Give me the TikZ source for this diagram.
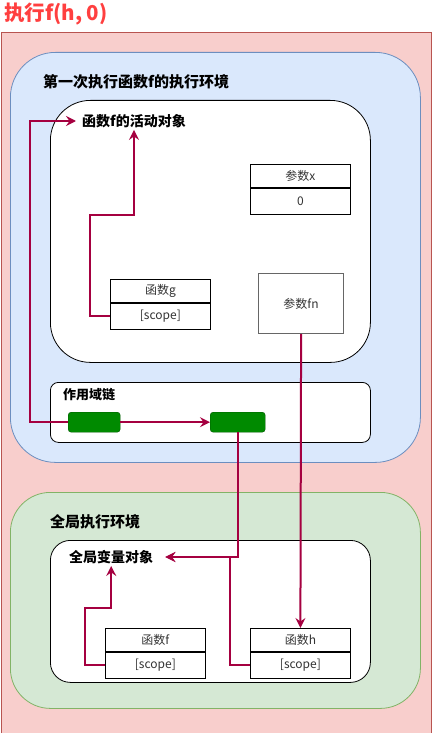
\documentclass[tikz,border=0pt]{standalone}
\usepackage{fontspec}
\setmainfont{Noto Sans CJK SC}
\usetikzlibrary{arrows.meta,calc,positioning}
\definecolor{rojofondo}{HTML}{F8CECC}
\definecolor{rojoborde}{HTML}{B85450}
\definecolor{azulfondo}{HTML}{DAE8FC}
\definecolor{azulborde}{HTML}{6C8EBF}
\definecolor{verdefondo}{HTML}{D5E8D4}
\definecolor{verdeborde}{HTML}{82B366}
\definecolor{verdecaja}{HTML}{008A00}
\definecolor{verdeoscuro}{HTML}{005700}
\definecolor{flechacolor}{HTML}{A50040}
\definecolor{titulocolor}{HTML}{FF3F3F}
\tikzset{
  entorno/.style={
    anchor=north west,
    line width=0.8pt,
    inner sep=0pt
  },
  objeto/.style={
    anchor=north west,
    draw=black,
    fill=white,
    line width=0.8pt,
    inner sep=0pt
  },
  etiqueta/.style={
    anchor=west,
    inner sep=2pt,
    font=\fontsize{14}{16}\selectfont\bfseries
  },
  celda/.style={
    draw=black,
    fill=white,
    line width=0.8pt,
    minimum width=100pt,
    minimum height=23pt,
    inner sep=0pt,
    text=black!80,
    font=\fontsize{12}{14}\selectfont
  },
  eslabon/.style={
    anchor=north west,
    rounded corners=3pt,
    draw=verdeoscuro,
    fill=verdecaja,
    minimum height=20pt,
    inner sep=0pt
  },
  flecha/.style={
    -{Stealth[length=10pt,width=10pt,inset=3.5pt]},
    line width=2pt,
    flechacolor
  }
}
\begin{document}
\begin{tikzpicture}[x=1pt,y=-1pt]
\useasboundingbox (0,0) rectangle (431,733);
% titulo y fondo
\node[anchor=west,inner sep=0pt,text=titulocolor,font=\fontsize{20.5}{24}\selectfont\bfseries] (titulo) at (4,14) {执行f(h, 0)};
\node[entorno,draw=rojoborde,fill=rojofondo,minimum width=430pt,minimum height=700pt] (fondo) at (0.5,32.5) {};
% entorno de f
\node[entorno,draw=azulborde,fill=azulfondo,rounded corners=45pt,minimum width=410pt,minimum height=410pt] (envf) at (10,52) {};
\node[etiqueta,font=\fontsize{15}{17}\selectfont\bfseries] (envftit) at (41,82) {第一次执行函数f的执行环境};
\node[objeto,rounded corners=40pt,minimum width=320pt,minimum height=262pt] (actobj) at (50,100) {};
\node[etiqueta] (actf) at (80,121) {函数f的活动对象};
\node[celda,anchor=north west] (xtit) at (250,164) {参数x};
\node[celda,below=0pt of xtit,minimum height=26pt] (xval) {0};
\node[celda,anchor=north west,draw=black!60,line width=1.2pt,minimum width=85pt,minimum height=60pt] (fn) at (258,273) {参数fn};
\node[celda,anchor=north west] (gtit) at (110,279) {函数g};
\node[celda,below=0pt of gtit,minimum height=26pt] (gscope) {[scope]};
% cadena de ambitos
\node[objeto,rounded corners=8pt,minimum width=320pt,minimum height=60pt] (cadena) at (50,382) {};
\node[etiqueta,font=\fontsize{13}{15}\selectfont\bfseries] (cadenatit) at (61,395) {作用域链};
\node[eslabon,minimum width=52pt] (e1) at (68,412) {};
\node[eslabon,minimum width=55pt] (e2) at (210,412) {};
% entorno global
\node[entorno,draw=verdeborde,fill=verdefondo,rounded corners=40pt,minimum width=410pt,minimum height=216pt] (envg) at (10,492) {};
\node[etiqueta,font=\fontsize{15}{17}\selectfont\bfseries] (envgtit) at (48,522) {全局执行环境};
\node[objeto,rounded corners=20pt,minimum width=320pt,minimum height=142pt] (globobj) at (50,540) {};
\node[etiqueta] (globvar) at (67,557) {全局变量对象};
\node[celda,anchor=north west] (ftit) at (105,628) {函数f};
\node[celda,below=0pt of ftit,minimum height=26pt] (fscope) {[scope]};
\node[celda,anchor=north west] (htit) at (250,628) {函数h};
\node[celda,below=0pt of htit,minimum height=26pt] (hscope) {[scope]};
% flechas
\draw[flecha] (gscope.west) -- ++(-20,0) |- ($(actf.south)+(0,85)$) -- (actf.south);
\draw[flecha] (e1.west) -- ++(-38,0) |- ($(actf.west)+(-4,0)$);
\draw[flecha] (e1) -- (e2);
\draw[flecha] (hscope.west) -- ++(-20,0) |- ($(globvar.east)+(10,0)$);
\draw[flecha] (e2.south) |- ($(globvar.east)+(10,0)$);
\draw[flecha] (fn.south) -- (htit.north);
\draw[flecha] (fscope.west) -- ++(-20,0) |- ($(globvar.south)+(0,42)$) -- (globvar.south);
\end{tikzpicture}
\end{document}
